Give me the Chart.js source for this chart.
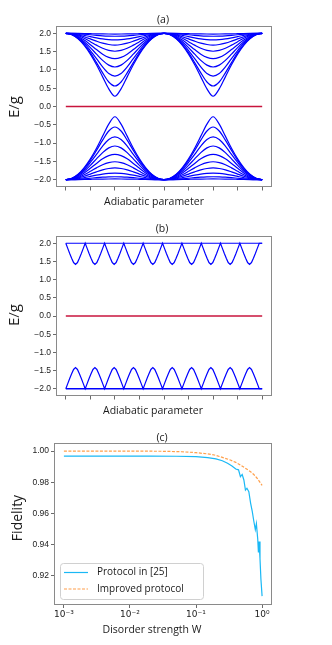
<!DOCTYPE html>
<html>
<head>
<meta charset="utf-8">
<script src="https://cdn.jsdelivr.net/npm/chart.js@4.4.1/dist/chart.umd.min.js"></script>
<style>
  body { margin: 0; background: #fff; width: 332px; height: 645px; overflow: hidden; position: relative; }
  canvas { position: absolute; left: 0; }
</style>
</head>
<body>
<canvas id="chartA" width="332" height="210" style="top:0px"></canvas>
<canvas id="chartB" width="332" height="210" style="top:210px"></canvas>
<canvas id="chartC" width="332" height="225" style="top:420px"></canvas>
<script>
// ---- shared axis ticks ----
const adiabaticTicks = [0, 1, 2, 3, 4, 5, 6, 7, 8];
const energyTicks = [-2, -1.5, -1, -0.5, 0, 0.5, 1, 1.5, 2];

// ---- panel (a): one dip (x from edge of dip to its centre) ----
const dipX = [0, 0.25, 0.5, 0.75, 1, 1.25, 1.5, 1.75, 2];
const dipCentres = [2, 6];
const upperBandA = [
  [2.0, 1.96, 1.85, 1.67, 1.43, 1.14, 0.81, 0.48, 0.28],
  [2.0, 1.965, 1.86, 1.69, 1.47, 1.20, 0.92, 0.67, 0.56],
  [2.0, 1.97, 1.875, 1.73, 1.53, 1.31, 1.08, 0.90, 0.83],
  [2.0, 1.973, 1.893, 1.77, 1.61, 1.43, 1.26, 1.13, 1.08],
  [2.0, 1.978, 1.915, 1.815, 1.69, 1.556, 1.43, 1.343, 1.31],
  [2.0, 1.984, 1.936, 1.863, 1.772, 1.677, 1.591, 1.532, 1.51],
  [2.0, 1.989, 1.957, 1.907, 1.847, 1.785, 1.731, 1.694, 1.68],
  [2.0, 1.993, 1.975, 1.946, 1.912, 1.877, 1.847, 1.827, 1.82],
  [2.0, 1.997, 1.989, 1.976, 1.961, 1.945, 1.932, 1.924, 1.92],
  [2.0, 1.999, 1.997, 1.994, 1.99, 1.986, 1.983, 1.981, 1.98]
];
const lowerBandA = [
  [-2.0, -1.96, -1.85, -1.67, -1.43, -1.14, -0.81, -0.48, -0.28],
  [-2.0, -1.965, -1.86, -1.69, -1.47, -1.20, -0.92, -0.67, -0.56],
  [-2.0, -1.97, -1.875, -1.73, -1.53, -1.31, -1.08, -0.90, -0.83],
  [-2.0, -1.973, -1.893, -1.77, -1.61, -1.43, -1.26, -1.13, -1.08],
  [-2.0, -1.978, -1.915, -1.815, -1.69, -1.556, -1.43, -1.343, -1.31],
  [-2.0, -1.984, -1.936, -1.863, -1.772, -1.677, -1.591, -1.532, -1.51],
  [-2.0, -1.989, -1.957, -1.907, -1.847, -1.785, -1.731, -1.694, -1.68],
  [-2.0, -1.993, -1.975, -1.946, -1.912, -1.877, -1.847, -1.827, -1.82],
  [-2.0, -1.997, -1.989, -1.976, -1.961, -1.945, -1.932, -1.924, -1.92],
  [-2.0, -1.999, -1.997, -1.994, -1.99, -1.986, -1.983, -1.981, -1.98]
];

// ---- panel (b): oscillating levels ----
const wiggleTops = [0, 0.79, 1.58, 2.36, 3.15, 3.94, 4.73, 5.52, 6.30, 7.09, 7.88];
const wiggleFrac = [0, 0.2, 0.4, 0.6, 0.8, 1];
const wiggleUpper = [2.0, 1.86, 1.72, 1.59, 1.47, 1.42];
const wiggleLower = [-2.0, -1.86, -1.72, -1.59, -1.47, -1.42];
const flatLevels = [2.0, -2.0];
const zeroMode = [0, 0];

// ---- panel (c): fidelity vs disorder ----
const wTicks = [0.001, 0.01, 0.1, 1];
const wTickLabels = ['10⁻³', '10⁻²', '10⁻¹', '10⁰'];
const fidelityTicks = [0.92, 0.94, 0.96, 0.98, 1.00];
const wOld = [0.001, 0.002, 0.005, 0.01, 0.02, 0.05, 0.1, 0.15, 0.2, 0.25, 0.3, 0.35, 0.4, 0.44, 0.47, 0.5, 0.53, 0.56, 0.59, 0.63, 0.67, 0.71, 0.75, 0.79, 0.82, 0.86, 0.88, 0.9, 0.93, 0.96, 1.0];
const fidOld = [0.9968, 0.9968, 0.9968, 0.9968, 0.9968, 0.9967, 0.9964, 0.9958, 0.9950, 0.9938, 0.9922, 0.9905, 0.9885, 0.9880, 0.9836, 0.9850, 0.9815, 0.9750, 0.9762, 0.9740, 0.9667, 0.9614, 0.9550, 0.9497, 0.9535, 0.9434, 0.9350, 0.9420, 0.9310, 0.9180, 0.9070];
const wNew = [0.001, 0.003, 0.01, 0.03, 0.06, 0.1, 0.15, 0.19, 0.25, 0.33, 0.4, 0.47, 0.55, 0.67, 0.75, 0.84, 0.92, 1.0];
const fidNew = [1.0000, 1.0000, 1.0000, 0.9999, 0.9996, 0.9990, 0.9982, 0.9975, 0.9960, 0.9943, 0.9928, 0.9911, 0.9892, 0.9868, 0.9850, 0.9826, 0.9803, 0.9780];

const tickFont = { family: "'Liberation Sans', Arial, sans-serif", size: 8.5 };
const labelFamily = "'Open Sans', 'Noto Sans', sans-serif";
const blue = '#0000ff';
const red = '#c8143c';

// build the dipping curves of (a) from the half profile
function dipCurve(values) {
  const pts = [];
  dipCentres.forEach((c, k) => {
    for (let i = 0; i < dipX.length; i++) {
      if (k > 0 && i === 0) continue;
      pts.push({ x: c - 2 + dipX[i], y: values[i] });
    }
    for (let i = dipX.length - 2; i >= 0; i--) pts.push({ x: c + 2 - dipX[i], y: values[i] });
  });
  return pts;
}

function wiggleCurve(values) {
  const pts = [];
  for (let k = 0; k < wiggleTops.length - 1; k++) {
    const a = wiggleTops[k], b = wiggleTops[k + 1], m = (a + b) / 2;
    for (let i = k === 0 ? 0 : 1; i < wiggleFrac.length; i++) pts.push({ x: a + wiggleFrac[i] * (m - a), y: values[i] });
    for (let i = wiggleFrac.length - 2; i >= 0; i--) pts.push({ x: b - wiggleFrac[i] * (b - m), y: values[i] });
  }
  pts.push({ x: 8, y: values[0] });
  return pts;
}

function line(data, color, width, extra) {
  return Object.assign({ data, borderColor: color, borderWidth: width, pointRadius: 0, fill: false }, extra || {});
}

// frame round the plot area (all four spines)
const framePlugin = {
  id: 'frame',
  afterDatasetsDraw(chart) {
    const a = chart.chartArea, ctx = chart.ctx;
    ctx.save();
    ctx.strokeStyle = '#8a8a8a';
    ctx.lineWidth = 1;
    ctx.strokeRect(Math.round(a.left) + 0.5, Math.round(a.top) + 0.5,
      Math.round(a.right - a.left) - 1, Math.round(a.bottom - a.top) - 1);
    ctx.restore();
  }
};

// panel title and axis labels
const textPlugin = {
  id: 'panelText',
  afterDraw(chart, args, o) {
    const ctx = chart.ctx;
    ctx.save();
    ctx.fillStyle = '#1a1a1a';
    ctx.textAlign = 'center';
    ctx.textBaseline = 'middle';
    ctx.font = '10.5px ' + labelFamily;
    ctx.fillText(o.title, o.titleX, o.titleY);
    ctx.font = '10.5px ' + labelFamily;
    ctx.fillText(o.xLabel, o.xLabelX, o.xLabelY);
    ctx.translate(o.yLabelX, o.yLabelY);
    ctx.rotate(-Math.PI / 2);
    ctx.font = o.yLabelSize + 'px ' + labelFamily;
    ctx.fillText(o.yLabel, 0, 0);
    ctx.restore();
  }
};

// legend box inside the plot area of (c)
const boxLegend = {
  id: 'boxLegend',
  afterDraw(chart, args, o) {
    if (!o.show) return;
    const ctx = chart.ctx;
    ctx.save();
    ctx.fillStyle = 'rgba(255,255,255,0.85)';
    ctx.strokeStyle = '#d0d0d0';
    ctx.lineWidth = 1;
    ctx.beginPath();
    ctx.roundRect(o.x + 0.5, o.y + 0.5, o.w, o.h, 3);
    ctx.fill();
    ctx.stroke();
    ctx.font = '10px ' + labelFamily;
    ctx.textBaseline = 'middle';
    chart.data.datasets.forEach((ds, i) => {
      const y = o.rowY[i];
      ctx.strokeStyle = ds.borderColor;
      ctx.lineWidth = ds.borderWidth;
      ctx.setLineDash(ds.borderDash || []);
      ctx.beginPath();
      ctx.moveTo(o.lineX0, y);
      ctx.lineTo(o.lineX1, y);
      ctx.stroke();
      ctx.setLineDash([]);
      ctx.fillStyle = '#1a1a1a';
      ctx.fillText(ds.label, o.textX, y);
    });
    ctx.restore();
  }
};

function fixedSize(prop, v) {
  return function (scale) { scale[prop] = v; };
}

function energyOptions(area, text) {
  return {
    responsive: false,
    animation: false,
    devicePixelRatio: 1,
    layout: { padding: { top: area.top, right: 332 - area.right, left: 0, bottom: 0 } },
    plugins: { legend: { display: false }, tooltip: { enabled: false }, panelText: text },
    scales: {
      x: {
        type: 'linear', min: -0.4, max: 8.4,
        afterBuildTicks: s => { s.ticks = adiabaticTicks.map(v => ({ value: v })); },
        afterFit: fixedSize('height', area.height - area.bottom),
        ticks: { callback: () => '', padding: 0 },
        grid: { drawOnChartArea: false, tickLength: 3.5, color: '#444', tickWidth: 0.8 },
        border: { display: false }
      },
      y: {
        type: 'linear', min: -2.2, max: 2.2,
        afterBuildTicks: s => { s.ticks = energyTicks.map(v => ({ value: v })); },
        afterFit: fixedSize('width', area.left),
        ticks: {
          font: tickFont, color: '#222', padding: 2,
          callback: v => (v < 0 ? '−' : '') + Math.abs(v).toFixed(1)
        },
        grid: { drawOnChartArea: false, tickLength: 3, color: '#444', tickWidth: 0.8 },
        border: { display: false }
      }
    }
  };
}

// ---- (a) ----
const dsA = [];
upperBandA.forEach(v => dsA.push(line(dipCurve(v), blue, 1.2, { cubicInterpolationMode: 'monotone' })));
lowerBandA.forEach(v => dsA.push(line(dipCurve(v), blue, 1.2, { cubicInterpolationMode: 'monotone' })));
dsA.push(line([{ x: 0, y: zeroMode[0] }, { x: 8, y: zeroMode[1] }], red, 1.4));

new Chart(document.getElementById('chartA'), {
  type: 'line',
  data: { datasets: dsA },
  options: energyOptions({ top: 26, bottom: 187, left: 56, right: 272, height: 210 }, {
    title: '(a)', titleX: 163, titleY: 20,
    xLabel: 'Adiabatic parameter', xLabelX: 154, xLabelY: 202,
    yLabel: 'E/g', yLabelX: 15, yLabelY: 107, yLabelSize: 15
  }),
  plugins: [framePlugin, textPlugin]
});

// ---- (b) ----
const dsB = [
  line([{ x: 0, y: flatLevels[0] }, { x: 8, y: flatLevels[0] }], blue, 1.2),
  line([{ x: 0, y: flatLevels[1] }, { x: 8, y: flatLevels[1] }], blue, 1.6),
  line(wiggleCurve(wiggleUpper), blue, 1.2),
  line(wiggleCurve(wiggleLower), blue, 1.2),
  line([{ x: 0, y: zeroMode[0] }, { x: 8, y: zeroMode[1] }], red, 1.4)
];

new Chart(document.getElementById('chartB'), {
  type: 'line',
  data: { datasets: dsB },
  options: energyOptions({ top: 26, bottom: 186, left: 56, right: 272, height: 210 }, {
    title: '(b)', titleX: 162, titleY: 19,
    xLabel: 'Adiabatic parameter', xLabelX: 153, xLabelY: 201,
    yLabel: 'E/g', yLabelX: 15, yLabelY: 105, yLabelSize: 15
  }),
  plugins: [framePlugin, textPlugin]
});

// ---- (c) ----
const dsC = [
  line(wOld.map((w, i) => ({ x: w, y: fidOld[i] })), '#1ab8f5', 1.2, { label: 'Protocol in [25]' }),
  line(wNew.map((w, i) => ({ x: w, y: fidNew[i] })), 'rgba(255,127,14,0.75)', 1.2, { label: 'Improved protocol', borderDash: [3, 1.5] })
];

new Chart(document.getElementById('chartC'), {
  type: 'line',
  data: { datasets: dsC },
  options: {
    responsive: false,
    animation: false,
    devicePixelRatio: 1,
    layout: { padding: { top: 23, right: 60, left: 0, bottom: 0 } },
    plugins: {
      legend: { display: false }, tooltip: { enabled: false },
      panelText: {
        title: '(c)', titleX: 162, titleY: 18,
        xLabel: 'Disorder strength W', xLabelX: 152, xLabelY: 210,
        yLabel: 'Fidelity', yLabelX: 18, yLabelY: 98, yLabelSize: 14
      },
      boxLegend: { show: true, x: 60, y: 143, w: 143, h: 36, rowY: [152.5, 169], lineX0: 64, lineX1: 88, textX: 97 }
    },
    scales: {
      x: {
        type: 'logarithmic', min: 0.000708, max: 1.413,
        afterBuildTicks: s => { s.ticks = wTicks.map(v => ({ value: v })); },
        afterFit: fixedSize('height', 40),
        ticks: {
          font: { family: "'DejaVu Sans', sans-serif", size: 9 }, color: '#222', padding: 1, maxRotation: 0,
          callback: (v, i) => wTickLabels[i]
        },
        grid: { drawOnChartArea: false, tickLength: 3, color: '#444', tickWidth: 0.8 },
        border: { display: false }
      },
      y: {
        type: 'linear', min: 0.9013, max: 1.0052,
        afterBuildTicks: s => { s.ticks = fidelityTicks.map(v => ({ value: v })); },
        afterFit: fixedSize('width', 54),
        ticks: { font: tickFont, color: '#222', padding: 2, callback: v => v.toFixed(2) },
        grid: { drawOnChartArea: false, tickLength: 3, color: '#444', tickWidth: 0.8 },
        border: { display: false }
      }
    }
  },
  plugins: [framePlugin, textPlugin, boxLegend]
});
</script>
</body>
</html>
